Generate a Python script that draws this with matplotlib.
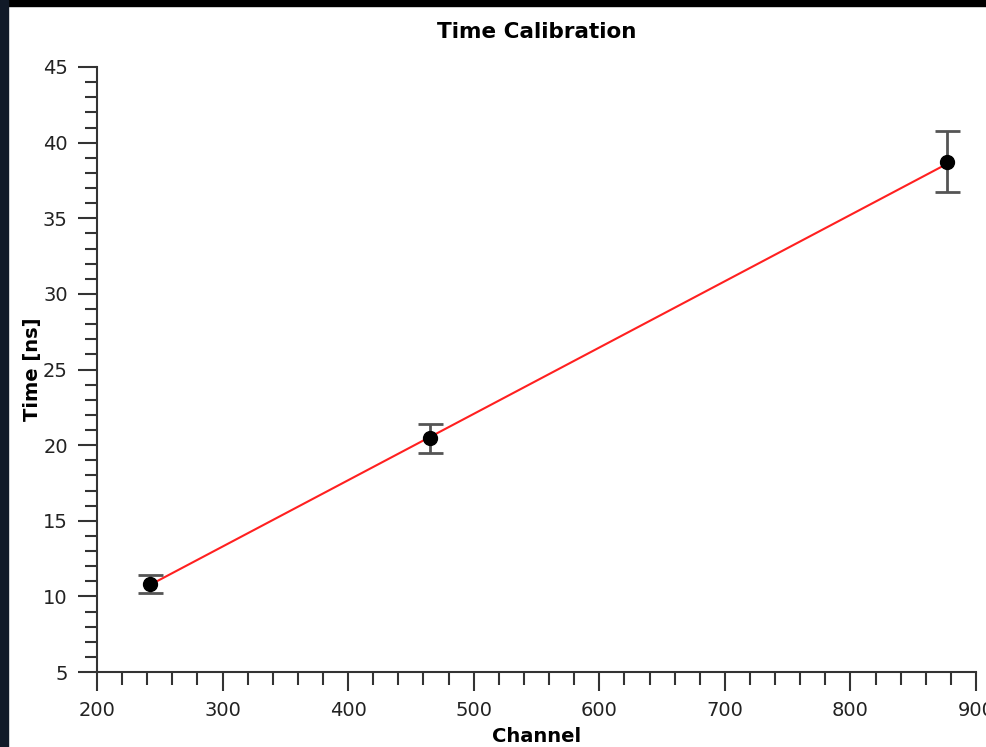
import matplotlib
matplotlib.use("Agg")
import matplotlib.pyplot as plt
from matplotlib.patches import Rectangle
from matplotlib.ticker import MultipleLocator

# measured calibration points
channel = [242, 465, 877]
time_ns = [10.8, 20.45, 38.75]
time_err = [0.6, 0.95, 2.0]

# fitted line end points
fit_x = [242, 877]
fit_y = [10.75, 38.6]

fig = plt.figure(figsize=(9.86, 7.47), dpi=100)
fig.patch.set_facecolor("white")
# dark screenshot border on top and left
fig.patches.append(Rectangle((0, 1 - 6 / 747), 1, 6 / 747, transform=fig.transFigure,
                             color="black", zorder=-1))
fig.patches.append(Rectangle((0, 0), 8 / 986, 1, transform=fig.transFigure,
                             color="#111a28", zorder=-1))

ax = fig.add_axes([97 / 986, 1 - 672 / 747, 879 / 986, 605 / 747])

ax.plot(fit_x, fit_y, color="#ff2020", lw=1.5, zorder=2)
ax.errorbar(channel, time_ns, yerr=time_err, fmt="o", color="black", ms=10,
            ecolor="#555555", elinewidth=2, capsize=9, capthick=2, zorder=3)

ax.set_xlim(200, 900)
ax.set_ylim(5, 45)
ax.xaxis.set_major_locator(MultipleLocator(100))
ax.xaxis.set_minor_locator(MultipleLocator(20))
ax.yaxis.set_major_locator(MultipleLocator(5))
ax.yaxis.set_minor_locator(MultipleLocator(1))

for s in ["top", "right"]:
    ax.spines[s].set_visible(False)
for s in ["left", "bottom"]:
    ax.spines[s].set_linewidth(1.5)
    ax.spines[s].set_color("#333333")

ax.tick_params(which="major", length=14, width=1.5, color="#333333",
               labelsize=14, pad=7, labelcolor="#222222")
ax.tick_params(which="minor", length=9, width=1.5, color="#333333")

ax.set_title("Time Calibration", fontsize=15.5, fontweight="bold", pad=21)
ax.set_xlabel("Channel", fontsize=14, fontweight="bold", labelpad=5)
ax.set_ylabel("Time [ns]", fontsize=14, fontweight="bold", labelpad=1)

fig.savefig("out.png", dpi=100)
